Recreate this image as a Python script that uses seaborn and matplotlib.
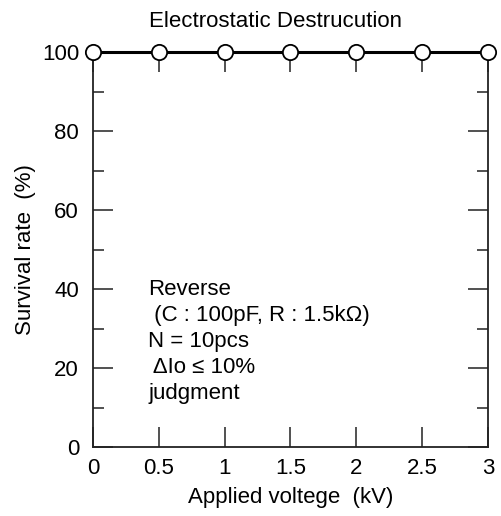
import matplotlib
matplotlib.use("Agg")
import matplotlib.pyplot as plt
import seaborn as sns
import pandas as pd

voltage = [0, 0.5, 1.0, 1.5, 2.0, 2.5, 3.0]
survival = [100, 100, 100, 100, 100, 100, 100]
xticks = [0, 0.5, 1, 1.5, 2, 2.5, 3]
xticklabels = ["0", "0.5", "1", "1.5", "2", "2.5", "3"]
yticks = [0, 20, 40, 60, 80, 100]
yminor = [10, 30, 50, 70, 90]

sns.set_theme(style="white")
plt.rcParams['font.family'] = ['Liberation Sans', 'DejaVu Sans']

df = pd.DataFrame({"v": voltage, "s": survival})

fig = plt.figure(figsize=(5.02, 5.16), dpi=100)
ax = fig.add_axes([93/502, 1-447/516, (488-93)/502, (447-52)/516])

sns.lineplot(data=df, x="v", y="s", ax=ax, color="black", linewidth=2.2,
             marker="o", markersize=11, markerfacecolor="white",
             markeredgecolor="black", markeredgewidth=1.3, clip_on=False, zorder=5)

FS = 16
ax.set_xlim(0, 3)
ax.set_ylim(0, 100)
ax.set_xticks(xticks)
ax.set_xticklabels(xticklabels)
ax.set_yticks(yticks)
ax.set_yticks(yminor, minor=True)
ax.xaxis.set_ticks_position("both")
ax.yaxis.set_ticks_position("both")
ax.tick_params(axis="both", which="major", direction="in", length=14.5, width=1.1,
               color="#222222", labelsize=FS, labelcolor="black",
               top=True, right=True, bottom=True, left=True,
               labeltop=False, labelright=False, labelbottom=True, labelleft=True)
ax.tick_params(axis="y", which="major", pad=10)
ax.tick_params(axis="y", which="minor", direction="in", length=8, width=1.1,
               color="#222222", left=True, right=True)
ax.tick_params(axis="x", which="major", pad=8)
for s in ["left", "bottom", "right"]:
    ax.spines[s].set_color("#222222")
    ax.spines[s].set_linewidth(1.3)
ax.spines["top"].set_visible(False)

ax.set_xlabel("Applied voltege  (kV)", fontsize=FS, color="black", labelpad=6)
ax.set_ylabel("Survival rate  (%)", fontsize=FS, color="black", labelpad=4)
ax.set_title("Electrostatic Destrucution", fontsize=FS, color="black", pad=18, x=0.463)

ax.text(0.418, 42.6, "Reverse\n (C : 100pF, R : 1.5k\u03a9)\nN = 10pcs\n \u0394Io \u2264 10%\njudgment",
        fontsize=FS, color="black", va="top", ha="left", linespacing=1.31,
        transform=ax.transData)

fig.savefig("out.png", dpi=100)
